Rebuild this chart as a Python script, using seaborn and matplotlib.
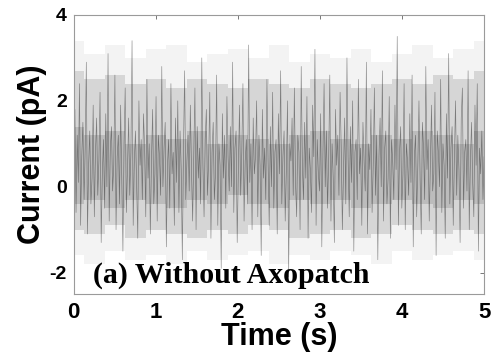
import numpy as np
import matplotlib
matplotlib.use("Agg")
import matplotlib.pyplot as plt
import seaborn as sns

# current trace (pA), evenly spaced over 0-5 s
current = [
    0.4, 1.8, -0.6, 1.2, 0.1, 2.4, -0.9, 0.7, 1.5, -0.3, 0.9, 2.9, -1.1, 0.5, 1.3, -0.4, 0.2, 1.9, -0.7, 0.8,
    1.6, -0.2, 0.6, 2.2, -1.3, 0.3, 1.1, -0.5, 1.7, 0.0, 3.1, -0.8, 0.9, 1.4, -0.1, 0.5, 2.6, -1.0, 0.7, 1.2,
    -0.4, 1.9, 0.2, -1.5, 1.0, 2.3, -0.6, 0.4, 1.6, -0.2, 0.8, 3.4, -0.9, 0.6, 1.3, 0.1, -1.2, 2.0, 0.5, 1.1,
    -0.3, 1.7, 0.9, -0.7, 2.5, 0.2, 1.0, -1.1, 0.6, 1.8, -0.4, 0.3, 2.1, -0.8, 1.2, 0.7, -0.2, 2.8, 0.0, 0.9,
    1.5, -1.4, 0.5, 1.1, -0.5, 2.4, 0.3, 0.8, -0.9, 1.6, 0.1, 2.0, -0.6, 1.3, 0.4, -1.7, 0.9, 2.7, -0.3, 0.6,
    1.2, -0.1, 1.9, 0.4, -0.8, 0.7, 2.3, -1.0, 1.4, 0.2, 0.9, -0.4, 3.0, 0.5, -0.7, 1.1, 1.8, -0.2, 0.6, 2.2,
    -1.2, 0.8, 1.5, -0.3, 0.3, 2.6, -0.9, 1.0, 0.5, -1.9, 1.7, 0.2, 1.2, -0.5, 2.1, 0.7, -0.1, 1.4, 0.0, 2.9,
    -0.6, 0.9, 1.3, -1.3, 0.4, 1.9, -0.2, 0.8, 2.4, -0.8, 0.6, 1.1, -0.4, 3.3, 0.1, 1.0, -1.0, 1.6, 0.3, 0.7,
    2.0, -0.7, 1.2, 0.5, -1.6, 1.8, 0.2, 0.9, -0.3, 2.5, 0.6, -0.9, 1.4, 0.0, 2.2, -0.5, 0.8, 1.1, -1.1, 1.7,
    0.3, 2.7, -0.4, 0.7, 1.3, -0.8, 0.4, 2.0, -2.1, 1.0, 0.6, 1.6, -0.2, 2.3, 0.1, -0.7, 1.2, 0.8, -1.0, 2.8,
    0.5, -0.3, 1.5, 0.2, 2.1, -1.2, 0.9, 0.4, -0.6, 1.9, 0.7, 3.2, -0.9, 1.1, 0.3, -0.1, 1.7, -1.4, 0.8, 2.4,
    0.0, 1.3, -0.5, 0.6, 2.6, -0.8, 1.0, 0.2, -1.3, 1.8, 0.5, 1.2, -0.2, 2.2, 0.9, -1.0, 0.4, 1.6, -0.4, 3.0,
    0.7, -0.7, 1.4, 0.1, 2.0, -1.5, 0.8, 1.1, -0.3, 2.5, 0.3, 0.9, -0.9, 1.5, 0.6, -0.1, 2.9, -1.1, 1.0, 0.4,
    1.8, -0.6, 0.5, 2.3, -0.2, 1.2, -1.7, 0.7, 1.6, 0.0, 2.7, -0.8, 0.9, 1.3, -0.4, 0.2, 2.1, -1.2, 1.1, 0.6,
    -0.3, 1.9, 0.4, 3.5, -0.9, 0.8, 1.4, -0.5, 0.3, 2.4, -1.0, 1.0, 0.6, -0.2, 1.7, 0.1, 2.6, -1.4, 0.7, 1.2,
    -0.7, 0.5, 2.0, 0.2, -1.1, 1.5, 0.9, -0.3, 2.8, 0.4, 1.1, -0.8, 0.6, 1.9, -0.1, 0.3, 2.2, -1.6, 1.3, 0.8,
    0.0, 2.5, -0.6, 1.0, 0.5, -1.2, 1.7, 0.2, 3.1, -0.4, 0.9, 1.4, -0.9, 0.7, 2.0, -0.2, 1.2, 0.4, -1.3, 1.6,
    2.3, -0.5, 0.8, 1.1, -0.1, 2.7, -1.0, 0.6, 1.5, 0.1, -0.7, 1.9, 0.5, 2.4, -1.5, 0.9, 0.3, 1.3, -0.3, 0.7,
]
time = np.linspace(0, 5, len(current))

# ragged bands of the trace as they look in the picture (faint halo, main band, dense core)
env_t = [0, 0.25, 0.5, 0.75, 1, 1.25, 1.5, 1.75, 2, 2.25, 2.5, 2.75, 3, 3.25, 3.5, 3.75, 4, 4.25, 4.5, 4.75, 5]
faint_hi = [3.4, 3.1, 3.3, 3.0, 3.2, 3.3, 2.9, 3.1, 3.2, 3.0, 3.3, 2.9, 3.1, 3.0, 3.2, 2.9, 3.1, 3.3, 3.0, 3.2, 3.4]
faint_lo = [-1.6, -1.8, -1.5, -1.7, -1.6, -1.8, -1.5, -1.7, -1.6, -1.5, -1.8, -1.6, -1.7, -1.5, -1.6, -1.8, -1.5, -1.7, -1.6, -1.5, -1.7]
env_hi = [2.7, 2.5, 2.6, 2.4, 2.5, 2.3, 2.5, 2.4, 2.3, 2.5, 2.4, 2.3, 2.5, 2.4, 2.3, 2.4, 2.5, 2.4, 2.6, 2.5, 2.7]
env_lo = [-1.0, -1.1, -0.9, -1.2, -1.0, -1.1, -1.2, -1.0, -1.1, -0.9, -1.0, -1.2, -1.1, -1.0, -1.2, -1.1, -0.9, -1.0, -1.1, -1.0, -1.1]
core_hi = [1.4, 1.2, 1.3, 1.0, 1.2, 1.1, 1.3, 1.0, 1.2, 1.1, 1.0, 1.2, 1.3, 1.1, 1.0, 1.2, 1.1, 1.3, 1.2, 1.0, 1.3]
core_lo = [-0.4, -0.3, -0.5, -0.3, -0.4, -0.5, -0.3, -0.4, -0.2, -0.4, -0.5, -0.3, -0.4, -0.3, -0.5, -0.4, -0.3, -0.4, -0.5, -0.3, -0.4]

sns.set_style("white")
plt.rcParams["axes.unicode_minus"] = False
plt.rcParams["text.color"] = "black"

fig = plt.figure(figsize=(4.95, 3.64), dpi=100)
ax = fig.add_axes([0.149, 0.192, 0.829, 0.767])

ax.fill_between(env_t, faint_lo, faint_hi, step="mid", color="#f3f3f3", lw=0, zorder=1)
ax.fill_between(env_t, env_lo, env_hi, step="mid", color="#d6d6d6", lw=0, zorder=1)
ax.fill_between(env_t, core_lo, core_hi, step="mid", color="#bcbcbc", lw=0, zorder=1)
sns.lineplot(x=time, y=current, ax=ax, sort=False, estimator=None,
             color="#222222", lw=0.45, alpha=0.5, zorder=2)

ax.set_xlim(0, 5)
ax.set_ylim(-2.5, 4)
ax.set_xticks([0, 1, 2, 3, 4, 5])
ax.set_yticks([-2, 0, 2, 4])

for s in ax.spines.values():
    s.set_color("#9a9a9a")
    s.set_linewidth(0.8)
ax.tick_params(direction="in", length=3, width=0.7, color="#777777",
               labelcolor="black", top=True, right=True)
ax.tick_params(axis="x", labelsize=16, pad=6)
ax.tick_params(axis="y", labelsize=14, pad=5)
for lab in ax.get_xticklabels() + ax.get_yticklabels():
    lab.set_fontfamily("Liberation Sans")
    lab.set_fontweight("bold")

ax.set_xlabel("Time (s)", fontsize=22, fontweight="bold", family="Liberation Sans",
              color="black", labelpad=-1)
ax.set_ylabel("Current (pA)", fontsize=22, fontweight="bold", family="Liberation Sans",
              color="black", labelpad=2)

ax.text(0.23, -2.24, "(a) Without Axopatch", fontsize=21.5, fontweight="bold",
        family="Liberation Serif", color="black", ha="left", va="baseline", zorder=3)

fig.savefig("out.png", dpi=100)
